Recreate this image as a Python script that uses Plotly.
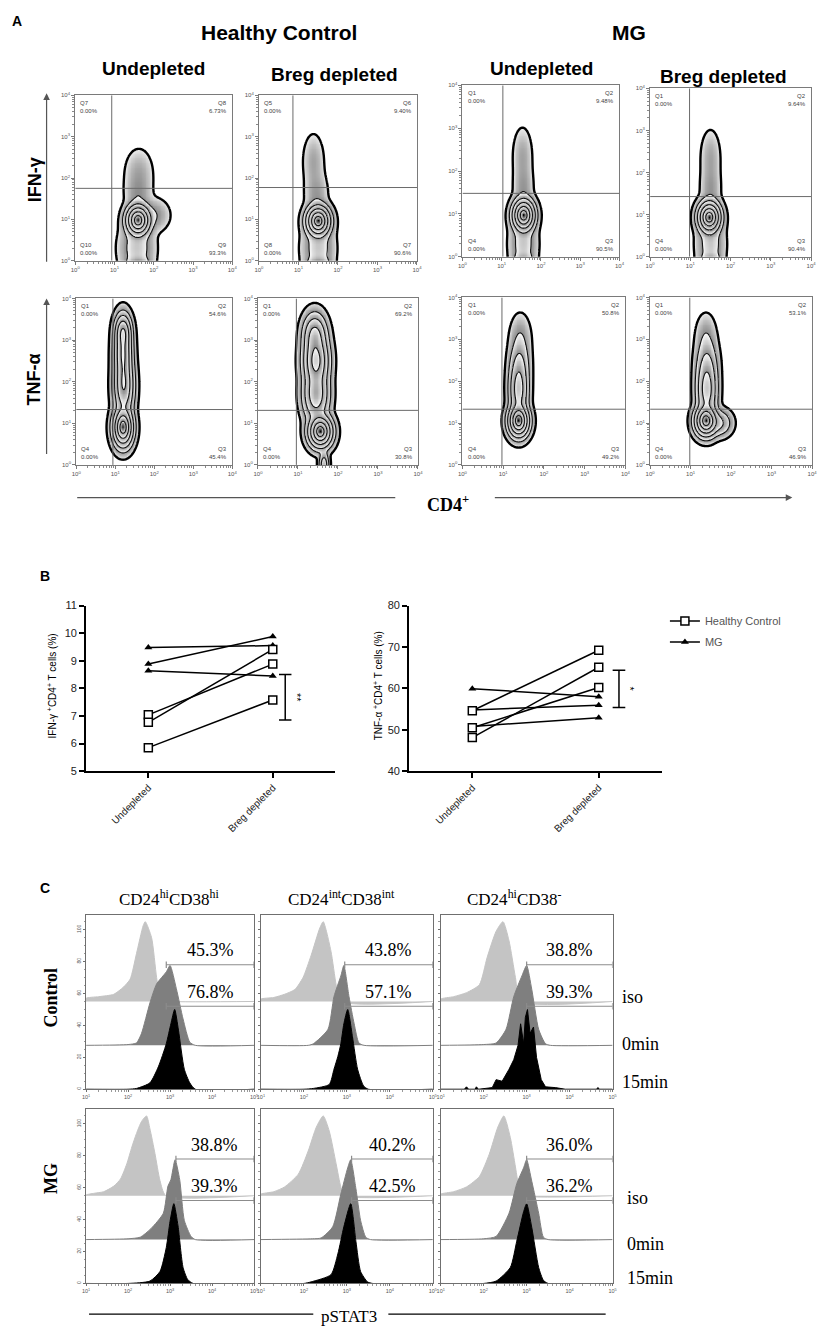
import numpy as np
import plotly.graph_objects as go

W, H = 825, 1339           # page size
OX, OY = 8, 8              # browser body margin
FW, FH = W - OX, H - OY    # figure size
SANS = "Liberation Sans, Arial, sans-serif"
SERIF = "Liberation Serif, Times New Roman, serif"

# ---------------- panel A : CD4+ T cell flow plots ----------------
group_titles = ["Healthy Control", "MG"]
flow_titles = ["Undepleted", "Breg depleted", "Undepleted", "Breg depleted"]
quad_names_ifn = [["Q7", "Q8", "Q10", "Q9"], ["Q5", "Q6", "Q8", "Q7"],
                  ["Q1", "Q2", "Q4", "Q3"], ["Q1", "Q2", "Q4", "Q3"]]
quad_names_tnf = [["Q1", "Q2", "Q4", "Q3"]] * 4
quad_pct_ifn = [["0.00%", "6.73%", "0.00%", "93.3%"], ["0.00%", "9.40%", "0.00%", "90.6%"],
                ["0.00%", "9.48%", "0.00%", "90.5%"], ["0.00%", "9.64%", "0.00%", "90.4%"]]
quad_pct_tnf = [["0.00%", "54.6%", "0.00%", "45.4%"], ["0.00%", "69.2%", "0.00%", "30.8%"],
                ["0.00%", "50.8%", "0.00%", "49.2%"], ["0.00%", "53.1%", "0.00%", "46.9%"]]
# quadrant gates (log10 units)
gate_cd4_ifn = [0.93, 0.86, 1.03, 0.98]
gate_ifn = [1.75, 1.77, 1.48, 1.43]
gate_cd4_tnf = [0.94, 0.96, 0.97, 0.98]
gate_tnf = [1.33, 1.31, 1.33, 1.33]
# populations: (log10 CD4, log10 cytokine, spread x, spread y, weight)
pops_hc_undep_ifn = [(1.60, 0.98, 0.14, 0.17, 1.0), (1.62, 2.10, 0.19, 0.32, 0.012),
                     (1.60, 1.60, 0.17, 0.25, 0.015), (2.00, 1.10, 0.20, 0.20, 0.02),
                     (1.57, 0.30, 0.22, 0.35, 0.04), (1.60, -0.05, 0.15, 0.08, 0.05)]
pops_hc_breg_ifn = [(1.50, 0.96, 0.14, 0.17, 1.0), (1.38, 2.40, 0.14, 0.35, 0.012),
                    (1.45, 1.60, 0.15, 0.30, 0.015), (1.50, 0.30, 0.20, 0.35, 0.04),
                    (1.50, -0.05, 0.15, 0.08, 0.05)]
pops_mg_undep_ifn = [(1.56, 0.97, 0.13, 0.17, 1.0), (1.53, 2.35, 0.13, 0.35, 0.012),
                     (1.55, 1.60, 0.13, 0.30, 0.015), (1.55, 0.30, 0.17, 0.35, 0.04),
                     (1.55, -0.05, 0.13, 0.08, 0.04)]
pops_mg_breg_ifn = [(1.47, 0.94, 0.13, 0.17, 1.0), (1.50, 2.35, 0.13, 0.35, 0.012),
                    (1.50, 1.60, 0.13, 0.30, 0.015), (1.50, 0.30, 0.17, 0.35, 0.04),
                    (1.50, -0.05, 0.13, 0.08, 0.04)]
pops_hc_undep_tnf = [(1.20, 0.90, 0.12, 0.22, 1.0), (1.22, 1.90, 0.12, 0.35, 0.5),
                     (1.20, 2.70, 0.11, 0.35, 0.5), (1.20, 3.20, 0.10, 0.20, 0.4)]
pops_hc_breg_tnf = [(1.56, 0.80, 0.14, 0.18, 1.0), (1.45, 1.70, 0.15, 0.30, 0.4),
                    (1.45, 2.50, 0.15, 0.30, 0.6), (1.42, 3.10, 0.14, 0.25, 0.3),
                    (1.65, 0.00, 0.06, 0.15, 0.15)]
pops_mg_undep_tnf = [(1.38, 1.05, 0.12, 0.18, 1.0), (1.38, 1.80, 0.11, 0.35, 0.35),
                     (1.40, 2.40, 0.12, 0.30, 0.08), (1.42, 3.00, 0.13, 0.30, 0.02)]
pops_mg_breg_tnf = [(1.38, 1.05, 0.13, 0.17, 1.0), (1.40, 1.80, 0.12, 0.35, 0.35),
                    (1.40, 2.40, 0.13, 0.30, 0.08), (1.38, 3.00, 0.13, 0.30, 0.02),
                    (1.70, 1.00, 0.15, 0.15, 0.10)]

# ---------------- panel B : paired percentages ----------------
b_categories = ["Undepleted", "Breg depleted"]
ifn_hc_undep = [7.04, 6.77, 5.85]
ifn_hc_breg = [8.88, 9.41, 7.58]
ifn_mg_undep = [9.48, 8.88, 8.64]
ifn_mg_breg = [9.55, 9.88, 8.45]
tnf_hc_undep = [54.6, 48.1, 50.5]
tnf_hc_breg = [69.2, 65.1, 60.2]
tnf_mg_undep = [59.9, 54.8, 50.8]
tnf_mg_breg = [58.0, 55.9, 52.9]
ifn_sig = (8.5, 6.85, "**")
tnf_sig = (64.4, 55.4, "*")

# ---------------- panel C : pSTAT3 histograms (log10 pSTAT3, % of max) ----------------
c_columns = ["CD24<sup>hi</sup>CD38<sup>hi</sup>", "CD24<sup>int</sup>CD38<sup>int</sup>",
             "CD24<sup>hi</sup>CD38<sup>-</sup>"]
c_rows = ["Control", "MG"]
c_stims = ["iso", "0min", "15min"]

ctrl_hh_iso_x = [1.0, 1.3, 1.66, 1.89, 2.05, 2.2, 2.36, 2.41, 2.56, 2.68, 2.78, 3.0]
ctrl_hh_iso_y = [4, 6, 9, 18, 28, 60, 95, 100, 80, 30, 2, 0]
ctrl_hh_0_x = [2.0, 2.2, 2.32, 2.52, 2.68, 2.91, 3.0, 3.15, 3.31, 3.47, 3.6]
ctrl_hh_0_y = [1, 3, 15, 53, 77, 92, 100, 71, 33, 4, 0]
ctrl_hh_15_x = [2.0, 2.2, 2.52, 2.72, 2.91, 3.02, 3.11, 3.2, 3.34, 3.47, 3.6]
ctrl_hh_15_y = [0, 1, 8, 28, 57, 82, 100, 74, 25, 8, 0]

ctrl_ii_iso_x = [1.0, 1.3, 1.55, 1.79, 1.98, 2.17, 2.37, 2.45, 2.63, 2.75, 2.85]
ctrl_ii_iso_y = [3, 5, 9, 15, 30, 58, 92, 100, 63, 21, 0]
ctrl_ii_0_x = [2.1, 2.22, 2.56, 2.7, 2.86, 2.93, 3.05, 3.17, 3.28, 3.4]
ctrl_ii_0_y = [0, 2, 20, 61, 87, 100, 61, 27, 3, 0]
ctrl_ii_15_x = [2.0, 2.22, 2.59, 2.7, 2.79, 2.86, 2.93, 3.02, 3.13, 3.25, 3.39, 3.5]
ctrl_ii_15_y = [0, 1, 6, 25, 41, 57, 82, 100, 66, 25, 4, 0]

ctrl_hn_iso_x = [1.0, 1.3, 1.6, 1.9, 2.08, 2.29, 2.45, 2.59, 2.74, 2.86]
ctrl_hn_iso_y = [3, 6, 11, 21, 55, 88, 100, 76, 30, 0]
ctrl_hn_0_x = [2.0, 2.29, 2.52, 2.7, 2.89, 3.0, 3.12, 3.28, 3.44, 3.55]
ctrl_hn_0_y = [1, 3, 20, 61, 87, 100, 70, 20, 2, 0]
ctrl_hn_15_x = [1.55, 1.6, 1.65, 1.8, 1.83, 1.88, 2.2, 2.29, 2.43, 2.59, 2.7, 2.8, 2.86,
                2.93, 2.97, 3.02, 3.08, 3.16, 3.23, 3.34, 3.44, 3.67, 3.9, 4.62, 4.66, 4.7]
ctrl_hn_15_y = [0, 3, 0, 0, 3, 0, 2, 12, 10, 25, 37, 55, 82,
                57, 90, 100, 70, 78, 40, 12, 3, 2, 0, 0, 2, 0]

mg_hh_iso_x = [1.0, 1.19, 1.42, 1.66, 1.82, 1.97, 2.09, 2.2, 2.32, 2.44, 2.52, 2.64, 2.76, 2.9]
mg_hh_iso_y = [1, 3, 5, 12, 21, 40, 61, 78, 93, 100, 84, 53, 19, 0]
mg_hh_0_x = [2.0, 2.29, 2.55, 2.84, 2.95, 3.02, 3.12, 3.23, 3.34, 3.5, 3.6]
mg_hh_0_y = [1, 3, 14, 33, 67, 75, 100, 75, 24, 4, 0]
mg_hh_15_x = [2.0, 2.52, 2.76, 2.91, 3.0, 3.09, 3.19, 3.31, 3.42, 3.55]
mg_hh_15_y = [0, 3, 15, 45, 78, 100, 72, 20, 5, 0]

mg_ii_iso_x = [1.0, 1.3, 1.55, 1.87, 2.1, 2.29, 2.45, 2.59, 2.75, 2.86, 2.95]
mg_ii_iso_y = [2, 5, 11, 27, 56, 86, 100, 81, 40, 11, 0]
mg_ii_0_x = [2.2, 2.4, 2.67, 2.86, 3.02, 3.09, 3.21, 3.32, 3.44, 3.55]
mg_ii_0_y = [1, 2, 16, 57, 90, 100, 64, 24, 3, 0]
mg_ii_15_x = [2.0, 2.17, 2.63, 2.79, 2.93, 3.09, 3.21, 3.32, 3.48, 3.6]
mg_ii_15_y = [0, 2, 11, 37, 71, 100, 53, 15, 2, 0]

mg_hn_iso_x = [1.0, 1.3, 1.6, 1.9, 2.13, 2.33, 2.47, 2.62, 2.74, 2.84, 2.9]
mg_hn_iso_y = [2, 5, 11, 24, 52, 86, 100, 73, 36, 5, 0]
mg_hn_0_x = [2.0, 2.29, 2.59, 2.77, 2.93, 3.0, 3.12, 3.28, 3.39, 3.5]
mg_hn_0_y = [1, 4, 33, 70, 90, 100, 73, 33, 3, 0]
mg_hn_15_x = [2.0, 2.29, 2.62, 2.77, 2.93, 3.0, 3.12, 3.28, 3.39, 3.5]
mg_hn_15_y = [0, 3, 20, 53, 90, 100, 70, 20, 4, 0]

ctrl_pct_0min = ["45.3%", "43.8%", "38.8%"]
ctrl_pct_15min = ["76.8%", "57.1%", "39.3%"]
mg_pct_0min = ["38.8%", "40.2%", "36.0%"]
mg_pct_15min = ["39.3%", "42.5%", "36.2%"]
ctrl_gate_start = [2.91, 2.95, 3.0]
mg_gate_start = [3.14, 3.11, 3.0]


fig = go.Figure()
n_axes = [0]


def px_x(x):
    return (x - OX) / FW


def px_y(y):
    return 1 - (y - OY) / FH


def new_axes(left, right, top, bottom, xkw, ykw):
    """ add an x/y axis pair placed by a pixel box, return the trace refs """
    n_axes[0] += 1
    s = "" if n_axes[0] == 1 else str(n_axes[0])
    fig.update_layout(**{
        "xaxis" + s: dict(domain=[px_x(left), px_x(right)], anchor="y" + s, **xkw),
        "yaxis" + s: dict(domain=[px_y(bottom), px_y(top)], anchor="x" + s, **ykw)})
    return "x" + s, "y" + s


def label(x, y, text, size, family=SANS, bold=False, angle=0, xanchor="center",
          yanchor="middle", color="black"):
    if bold:
        text = "<b>" + text + "</b>"
    fig.add_annotation(x=px_x(x), y=px_y(y), xref="paper", yref="paper", text=text,
                       showarrow=False, textangle=angle, xanchor=xanchor, yanchor=yanchor,
                       font=dict(size=size, family=family, color=color))


def px_line(x0, y0, x1, y1, color="black", width=1.0):
    fig.add_shape(type="line", xref="paper", yref="paper", x0=px_x(x0), y0=px_y(y0),
                  x1=px_x(x1), y1=px_y(y1), line=dict(color=color, width=width))


def px_arrow(xh, yh, xt, yt):
    fig.add_annotation(x=px_x(xh), y=px_y(yh), xref="paper", yref="paper", text="",
                       showarrow=True, ax=xt - xh, ay=yt - yh, arrowhead=2, arrowsize=1.1,
                       arrowwidth=1.2, arrowcolor="#555555")


def log_ticks(lo, hi):
    vals = list(range(lo, hi + 1))
    text = ["10<sup>%d</sup>" % v for v in vals]
    minor = [v + np.log10(k) for v in range(lo, hi) for k in range(2, 10)]
    return vals, text, minor


# density is shown on a -sqrt(-log10) scale so contour rings come out evenly spaced
OUTLINE = -np.sqrt(2.7)
RING_START, RING_END, RING_STEP = -1.3, -0.3, 0.25
band_edges = [OUTLINE] + list(np.arange(RING_START, RING_END + 1e-9, RING_STEP)) + [0.0]


def zebra_scale(edges):
    # every band starts white just inside its black ring and darkens to grey
    lo, hi = edges[0], edges[-1]
    scale = []
    for i in range(len(edges) - 1):
        a = (edges[i] - lo) / (hi - lo) + (1e-4 if i else 0.0)
        b = (edges[i + 1] - lo) / (hi - lo)
        last = i == len(edges) - 2
        start = "#f2f2f2" if i == 0 else "#ffffff"
        end = "#000000" if last else "#8a8a8a"
        scale += [[a, start], [b, end]]
    return scale


ZEBRA = zebra_scale(band_edges)


def flow_plot(box, pops, gx_cut, gy_cut, names, pcts):
    left, right, top, bottom = box
    vals, text, minor = log_ticks(0, 4)
    ax = dict(range=[0, 4], tickvals=vals, ticktext=text, showline=True, mirror=True,
              linecolor="#7a7a7a", linewidth=1, ticks="outside", ticklen=3,
              tickcolor="#7a7a7a", showgrid=False, zeroline=False,
              tickfont=dict(size=6, family=SANS, color="#555555"),
              minor=dict(tickvals=minor, ticklen=2, tickcolor="#8a8a8a", ticks="outside"))
    xa, ya = new_axes(left, right, top, bottom, dict(ax), dict(ax))

    gx = np.arange(0.2, 3.2, 0.02)
    gy = np.arange(-0.5, 4.0, 0.02)
    X, Y = np.meshgrid(gx, gy)
    dens = np.zeros_like(X)
    for cx, cy, sx, sy, w in pops:
        dens += w * np.exp(-0.5 * (((X - cx) / sx) ** 2 + ((Y - cy) / sy) ** 2))
    z = -np.sqrt(-np.log10(np.maximum(dens / dens.max(), 1e-12)))
    z = np.round(z, 3)
    zm = np.where(z < OUTLINE, np.nan, z)
    fig.add_trace(go.Heatmap(x=gx, y=gy, z=zm, zmin=OUTLINE, zmax=0,
                             colorscale=ZEBRA, showscale=False, hoverinfo="skip",
                             zsmooth=False, showlegend=False, xaxis=xa, yaxis=ya))
    fig.add_trace(go.Contour(x=gx, y=gy, z=z, showscale=False, hoverinfo="skip",
                             showlegend=False, xaxis=xa, yaxis=ya,
                             contours=dict(start=RING_START, end=RING_END, size=RING_STEP,
                                           coloring="none"),
                             line=dict(color="#111111", width=1.1)))
    fig.add_trace(go.Contour(x=gx, y=gy, z=z, showscale=False, hoverinfo="skip",
                             showlegend=False, xaxis=xa, yaxis=ya,
                             contours=dict(start=OUTLINE, end=OUTLINE, size=1,
                                           coloring="none"),
                             line=dict(color="black", width=2.4)))
    # quadrant gates
    fig.add_shape(type="line", xref=xa, yref=ya, x0=gx_cut, x1=gx_cut, y0=0, y1=4,
                  line=dict(color="#6a6a6a", width=1))
    fig.add_shape(type="line", xref=xa, yref=ya, x0=0, x1=4, y0=gy_cut, y1=gy_cut,
                  line=dict(color="#6a6a6a", width=1))
    spots = [(0.02, 0.985, "left", "top"), (0.98, 0.985, "right", "top"),
             (0.02, 0.015, "left", "bottom"), (0.98, 0.015, "right", "bottom")]
    for (px_, py_, xan, yan), nm, pc in zip(spots, names, pcts):
        fig.add_annotation(x=px_, y=py_, xref=xa + " domain", yref=ya + " domain",
                           text=nm + "<br>" + pc, showarrow=False, xanchor=xan, yanchor=yan,
                           align=xan, font=dict(size=6, family=SANS, color="#444444"))


flow_boxes_ifn = [(71, 230, 90, 257), (257, 417, 90, 257), (463, 622, 80, 253), (653, 816, 83, 253)]
flow_boxes_tnf = [(72, 230, 295, 463), (256, 418, 295, 463), (463, 628, 294, 463), (653, 817, 294, 463)]
pops_ifn = [pops_hc_undep_ifn, pops_hc_breg_ifn, pops_mg_undep_ifn, pops_mg_breg_ifn]
pops_tnf = [pops_hc_undep_tnf, pops_hc_breg_tnf, pops_mg_undep_tnf, pops_mg_breg_tnf]
for i in range(4):
    flow_plot(flow_boxes_ifn[i], pops_ifn[i], gate_cd4_ifn[i], gate_ifn[i],
              quad_names_ifn[i], quad_pct_ifn[i])
    flow_plot(flow_boxes_tnf[i], pops_tnf[i], gate_cd4_tnf[i], gate_tnf[i],
              quad_names_tnf[i], quad_pct_tnf[i])

label(12, 15, "A", 14, bold=True)
label(277, 27, group_titles[0], 21, bold=True)
label(632, 27, group_titles[1], 21, bold=True)
for (cx, cy), t in zip([(150, 63), (333, 69), (543, 63), (727, 71)], flow_titles):
    label(cx, cy, t, 19, bold=True)
label(31, 175, "IFN-γ", 18, bold=True, angle=-90)
label(29, 377, "TNF-α", 18, bold=True, angle=-90)
px_arrow(42, 88, 42, 258)
px_arrow(42, 295, 42, 452)
px_line(73, 496, 395, 496, color="#555555", width=1.3)
px_arrow(797, 496, 498, 496)
label(448, 502, "CD4<sup>+</sup>", 18, family=SERIF, bold=True)


# ---------------- panel B ----------------
def paired_plot(box, yr, dtick, hc_a, hc_b, mg_a, mg_b, sig, sig_x, show_legend):
    left, right, top, bottom = box
    xa, ya = new_axes(left, right, top, bottom,
                      dict(type="category", range=[-0.5, 1.5], showline=True, linewidth=2,
                           linecolor="black", ticks="outside", ticklen=5, tickwidth=2,
                           tickcolor="black", tickangle=-45, showgrid=False, zeroline=False,
                           tickfont=dict(size=10, family=SANS, color="#222222")),
                      dict(range=yr, dtick=dtick, showline=True, linewidth=2,
                           linecolor="black", ticks="outside", ticklen=5, tickwidth=2,
                           tickcolor="black", showgrid=False, zeroline=False,
                           tickfont=dict(size=11, family=SANS, color="#222222")))
    for k in range(len(mg_a)):
        fig.add_trace(go.Scatter(x=b_categories, y=[mg_a[k], mg_b[k]], mode="lines+markers",
                                 line=dict(color="black", width=1.5),
                                 marker=dict(symbol="triangle-up", size=7, color="black"),
                                 name="MG", legendgroup="MG", legendrank=2,
                                 showlegend=show_legend and k == 0, xaxis=xa, yaxis=ya))
    for k in range(len(hc_a)):
        fig.add_trace(go.Scatter(x=b_categories, y=[hc_a[k], hc_b[k]], mode="lines+markers",
                                 line=dict(color="black", width=1.5),
                                 marker=dict(symbol="square", size=8, color="white",
                                             line=dict(color="black", width=1.5)),
                                 name="Healthy Control", legendgroup="HC", legendrank=1,
                                 showlegend=show_legend and k == 0, xaxis=xa, yaxis=ya))
    hi, lo, stars = sig
    for x0, y0, x1, y1 in [(sig_x, hi, sig_x, lo), (sig_x - 0.05, hi, sig_x + 0.05, hi),
                           (sig_x - 0.05, lo, sig_x + 0.05, lo)]:
        fig.add_shape(type="line", xref=xa, yref=ya, x0=x0, y0=y0, x1=x1, y1=y1,
                      line=dict(color="black", width=1.5))
    fig.add_annotation(x=sig_x + 0.09, y=(hi + lo) / 2, xref=xa, yref=ya, text=stars,
                       showarrow=False, textangle=90,
                       font=dict(size=11, family=SANS, color="black"))


paired_plot((82, 334, 605, 772), [5, 11], 1, ifn_hc_undep, ifn_hc_breg, ifn_mg_undep,
            ifn_mg_breg, ifn_sig, 1.10, True)
paired_plot((409, 665, 605, 772), [40, 80], 10, tnf_hc_undep, tnf_hc_breg, tnf_mg_undep,
            tnf_mg_breg, tnf_sig, 1.16, False)
label(40, 575, "B", 14, bold=True)
label(47, 686, "IFN-γ <sup>+</sup>CD4<sup>+</sup> T cells (%)", 10, angle=-90)
label(377, 686, "TNF-α <sup>+</sup>CD4<sup>+</sup> T cells (%)", 10, angle=-90)

# ---------------- panel C ----------------
X_LO, X_HI = 1.0, 5.0
Y_TOP = 109.3
H_SCALE = 0.5
STACK = [55.0, 27.5, 0.0]
FILLS = ["#c4c4c4", "#7f7f7f", "#000000"]
GATE_Y = [78.0, 52.0]


def hist_panel(box, hists, gate_start, pct_top, pct_low, first_col, jagged):
    left, right, top, bottom = box
    vals, text, minor = log_ticks(1, 5)
    xa, ya = new_axes(left, right, top, bottom,
                      dict(range=[X_LO, X_HI], tickvals=vals, ticktext=text, showline=True,
                           mirror=True, linecolor="#6f6f6f", linewidth=1, ticks="outside",
                           ticklen=2, tickcolor="#6f6f6f", showgrid=False, zeroline=False,
                           tickfont=dict(size=5.5, family=SANS, color="#555555"),
                           minor=dict(tickvals=minor, ticklen=1.5, tickcolor="#999999",
                                      ticks="outside")),
                      dict(range=[0, Y_TOP], tickvals=[0, 20, 40, 60, 80, 100],
                           showticklabels=first_col, tickangle=-90, showline=True,
                           mirror=True, linecolor="#6f6f6f", linewidth=1, ticks="outside",
                           ticklen=2, tickcolor="#6f6f6f", showgrid=False, zeroline=False,
                           tickfont=dict(size=5, family=SANS, color="#555555"),
                           minor=dict(dtick=5, ticklen=1.5, tickcolor="#999999",
                                      ticks="outside")))
    for j, (hx, hy) in enumerate(hists):
        base = STACK[j]
        xs = [X_LO] + list(hx) + [X_HI]
        ys = [base] + [base + H_SCALE * v for v in hy] + [base]
        shape = "linear" if (jagged and j == 2) else "spline"
        fig.add_trace(go.Scatter(x=xs, y=ys, mode="lines", fill="toself",
                                 fillcolor=FILLS[j], line=dict(color=FILLS[j], width=1,
                                                               shape=shape, smoothing=0.6),
                                 hoverinfo="skip", showlegend=False, xaxis=xa, yaxis=ya))
    for gy, pct in zip(GATE_Y, [pct_top, pct_low]):
        for x0, y0, x1, y1 in [(gate_start, gy, X_HI, gy), (gate_start, gy - 2, gate_start, gy + 2),
                               (X_HI, gy - 2, X_HI, gy + 2)]:
            fig.add_shape(type="line", xref=xa, yref=ya, x0=x0, y0=y0, x1=x1, y1=y1,
                          line=dict(color="#8c8c8c", width=1.2))
        fig.add_annotation(x=(gate_start + X_HI) / 2, y=gy + 1.5, xref=xa, yref=ya, text=pct,
                           showarrow=False, yanchor="bottom",
                           font=dict(size=18, family=SERIF, color="black"))


ctrl_hists = [[(ctrl_hh_iso_x, ctrl_hh_iso_y), (ctrl_hh_0_x, ctrl_hh_0_y), (ctrl_hh_15_x, ctrl_hh_15_y)],
              [(ctrl_ii_iso_x, ctrl_ii_iso_y), (ctrl_ii_0_x, ctrl_ii_0_y), (ctrl_ii_15_x, ctrl_ii_15_y)],
              [(ctrl_hn_iso_x, ctrl_hn_iso_y), (ctrl_hn_0_x, ctrl_hn_0_y), (ctrl_hn_15_x, ctrl_hn_15_y)]]
mg_hists = [[(mg_hh_iso_x, mg_hh_iso_y), (mg_hh_0_x, mg_hh_0_y), (mg_hh_15_x, mg_hh_15_y)],
            [(mg_ii_iso_x, mg_ii_iso_y), (mg_ii_0_x, mg_ii_0_y), (mg_ii_15_x, mg_ii_15_y)],
            [(mg_hn_iso_x, mg_hn_iso_y), (mg_hn_0_x, mg_hn_0_y), (mg_hn_15_x, mg_hn_15_y)]]
col_edges = [(82, 252), (259, 433), (441, 615)]
for c in range(3):
    l, r = col_edges[c]
    hist_panel((l, r, 917, 1093), ctrl_hists[c], ctrl_gate_start[c], ctrl_pct_0min[c],
               ctrl_pct_15min[c], c == 0, c == 2)
    hist_panel((l, r, 1113, 1289), mg_hists[c], mg_gate_start[c], mg_pct_0min[c],
               mg_pct_15min[c], c == 0, False)

label(40, 890, "C", 14, bold=True)
for cx, t in zip([166, 341, 516], c_columns):
    label(cx, 900, t, 17, family=SERIF)
label(47, 1001, c_rows[0], 18, family=SERIF, bold=True, angle=-90)
label(47, 1183, c_rows[1], 18, family=SERIF, bold=True, angle=-90)
for yy, t in zip([1000, 1047, 1086], c_stims):
    label(623, yy, t, 18, family=SERIF, xanchor="left")
for yy, t in zip([1203, 1249, 1283], c_stims):
    label(628, yy, t, 18, family=SERIF, xanchor="left")
px_line(85, 1320, 312, 1320, width=1.2)
px_line(388, 1320, 608, 1320, width=1.2)
label(348, 1322, "pSTAT3", 17, family=SERIF)

fig.update_layout(width=FW, height=FH, margin=dict(l=0, r=0, t=0, b=0),
                  paper_bgcolor="white", plot_bgcolor="white",
                  legend=dict(x=px_x(668), y=px_y(606), xanchor="left", yanchor="top",
                              bgcolor="rgba(0,0,0,0)", itemwidth=30,
                              font=dict(size=11, family=SANS, color="#555555"),
                              tracegroupgap=2))

fig.write_html("out.html")
